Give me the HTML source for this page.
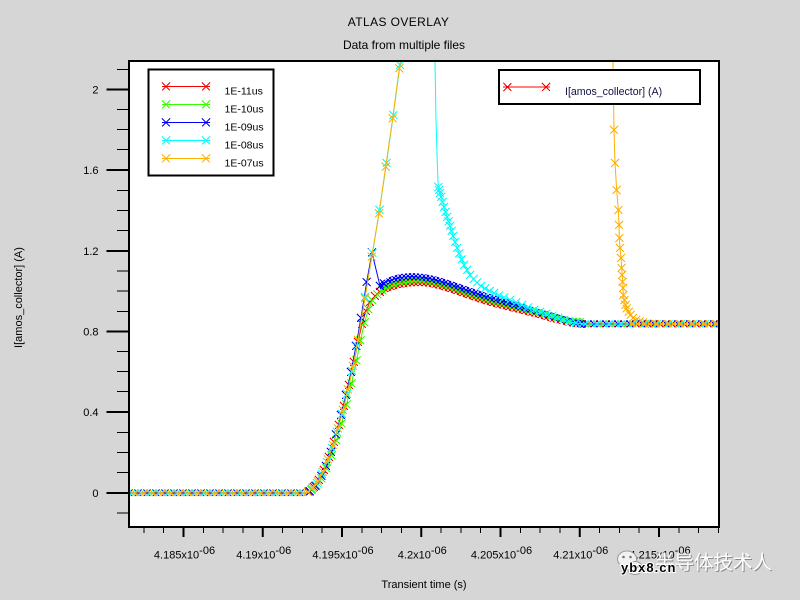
<!DOCTYPE html>
<html>
<head>
<meta charset="utf-8">
<style>
html,body{margin:0;padding:0;background:#d6d6d6;}
svg{display:block;}
</style>
</head>
<body>
<svg width="800" height="600" viewBox="0 0 800 600" xmlns="http://www.w3.org/2000/svg" font-family="'Liberation Sans', Arial, sans-serif">
<defs>
  <clipPath id="clip"><rect x="129" y="61" width="590" height="466"/></clipPath>
  <marker id="mR" markerUnits="userSpaceOnUse" markerWidth="10" markerHeight="10" refX="5" refY="5" overflow="visible"><path d="M1,1L9,9M1,9L9,1" stroke="#ff0000" fill="none" shape-rendering="crispEdges"/></marker>
  <marker id="mG" markerUnits="userSpaceOnUse" markerWidth="10" markerHeight="10" refX="5" refY="5" overflow="visible"><path d="M1,1L9,9M1,9L9,1" stroke="#33ff00" fill="none" shape-rendering="crispEdges"/></marker>
  <marker id="mB" markerUnits="userSpaceOnUse" markerWidth="10" markerHeight="10" refX="5" refY="5" overflow="visible"><path d="M1,1L9,9M1,9L9,1" stroke="#0000ff" fill="none" shape-rendering="crispEdges"/></marker>
  <marker id="mC" markerUnits="userSpaceOnUse" markerWidth="10" markerHeight="10" refX="5" refY="5" overflow="visible"><path d="M1,1L9,9M1,9L9,1" stroke="#00ffff" fill="none" shape-rendering="crispEdges"/></marker>
  <marker id="mO" markerUnits="userSpaceOnUse" markerWidth="10" markerHeight="10" refX="5" refY="5" overflow="visible"><path d="M1,1L9,9M1,9L9,1" stroke="#ffb000" fill="none" shape-rendering="crispEdges"/></marker>

  <pattern id="hR" patternUnits="userSpaceOnUse" width="4" height="4"><path d="M-1,-1L5,5M-1,5L5,-1" stroke="#ff0000" stroke-width="1" shape-rendering="crispEdges"/></pattern>
  <pattern id="hG" patternUnits="userSpaceOnUse" width="4" height="4"><path d="M-1,-1L5,5M-1,5L5,-1" stroke="#33ff00" stroke-width="1" shape-rendering="crispEdges"/></pattern>
  <pattern id="hB" patternUnits="userSpaceOnUse" width="4" height="4"><path d="M-1,-1L5,5M-1,5L5,-1" stroke="#0000ff" stroke-width="1" shape-rendering="crispEdges"/></pattern>

  <pattern id="pBase" patternUnits="userSpaceOnUse" x="0" y="489" width="9" height="8">
    <g fill="none" stroke-width="1" shape-rendering="crispEdges">
      <path stroke="#0000ff" d="M-0.5,0.5L6.5,7.5M-0.5,7.5L6.5,0.5M8.5,0.5L15.5,7.5M8.5,7.5L15.5,0.5"/>
      <path stroke="#00ffff" d="M2.5,0.5L9.5,7.5M2.5,7.5L9.5,0.5M-6.5,0.5L0.5,7.5M-6.5,7.5L0.5,0.5"/>
      <path stroke="#ffb000" d="M-3.5,0.5L3.5,7.5M-3.5,7.5L3.5,0.5M5.5,0.5L12.5,7.5M5.5,7.5L12.5,0.5M0,4L9,4"/>
    </g>
  </pattern>
  <pattern id="pFlatA" patternUnits="userSpaceOnUse" x="0" y="320" width="12" height="8">
    <g fill="none" stroke-width="1" shape-rendering="crispEdges">
      <path stroke="#ff0000" d="M-3.5,0.5L3.5,7.5M-3.5,7.5L3.5,0.5M8.5,0.5L15.5,7.5M8.5,7.5L15.5,0.5"/>
      <path stroke="#33ff00" d="M-0.5,0.5L6.5,7.5M-0.5,7.5L6.5,0.5"/>
      <path stroke="#0000ff" d="M2.5,0.5L9.5,7.5M2.5,7.5L9.5,0.5"/>
      <path stroke="#00ffff" d="M5.5,0.5L12.5,7.5M5.5,7.5L12.5,0.5M-6.5,0.5L0.5,7.5M-6.5,7.5L0.5,0.5M0,4L12,4"/>
    </g>
  </pattern>
  <pattern id="pFlatB" patternUnits="userSpaceOnUse" x="0" y="320" width="12" height="8">
    <g fill="none" stroke-width="1" shape-rendering="crispEdges">
      <path stroke="#ff0000" d="M-3.5,0.5L3.5,7.5M-3.5,7.5L3.5,0.5M8.5,0.5L15.5,7.5M8.5,7.5L15.5,0.5"/>
      <path stroke="#0000ff" d="M2.5,0.5L9.5,7.5M2.5,7.5L9.5,0.5"/>
      <path stroke="#00ffff" d="M5.5,0.5L12.5,7.5M5.5,7.5L12.5,0.5M-6.5,0.5L0.5,7.5M-6.5,7.5L0.5,0.5"/>
      <path stroke="#ffb000" d="M-2,0.5L5,7.5M-2,7.5L5,0.5M4,0.5L11,7.5M4,7.5L11,0.5M10,0.5L17,7.5M10,7.5L17,0.5M0,4L12,4"/>
    </g>
  </pattern>
</defs>

<!-- background -->
<rect x="0" y="0" width="800" height="600" fill="#d6d6d6"/>
<rect x="129" y="61" width="590" height="466" fill="#ffffff"/>

<!-- titles -->
<text x="398.5" y="26" text-anchor="middle" font-size="12" letter-spacing="0.4" fill="#000">ATLAS OVERLAY</text>
<text x="404" y="49" text-anchor="middle" font-size="12" fill="#000">Data from multiple files</text>

<!-- data -->
<g clip-path="url(#clip)" fill="none" stroke-width="1">
  <!-- RED -->
  <polygon fill="url(#hR)" stroke="none" points="380,288.5 390,284 400,281 410,279.5 420,279 430,280 440,282.5 450,285.5 460,289 470,292.5 480,296 490,299 500,301.5 510,304 520,306.5 530,309 540,311.5 550,314.5 560,317 570,319.5 584,320 584,328 570,326.5 560,324 550,321.5 540,318.5 530,316 520,313.5 510,311 500,308.5 490,306 480,303 470,299.5 460,296 450,292.5 440,289.5 430,287 420,286 410,286.5 400,288 390,291 380,295.5"/>
  <polyline stroke="#ff0000" points="128,493 305,493 309,491.5 314,487 319,480 324,470 329,457 334,442 339,425 344,406 349,385 354,362 358,342 362,324 366,311 370,302 375,296 380,292 390,287.5 400,284.5 410,283 420,282.5 430,283.5 440,286 450,289 460,292.5 470,296 480,299.5 490,302.5 500,305 510,307.5 520,310 530,312.5 540,315 550,318 560,320.5 570,323 580,324 719,324"/>
  <polyline stroke="none" marker-start="url(#mR)" marker-mid="url(#mR)" marker-end="url(#mR)" points="309,491.5 314,487 319,480 324,470 329,457 334,442 339,425 344,406 349,385 354,362 358,342 362,324 366,311 370,302 375,296 380,292"/>

  <!-- GREEN -->
  <polygon fill="url(#hG)" stroke="none" transform="translate(0,-2)" points="380,288.5 390,284 400,281 410,279.5 420,279 430,280 440,282.5 450,285.5 460,289 470,292.5 480,296 490,299 500,301.5 510,304 520,306.5 530,309 540,311.5 550,314.5 560,317 570,319.5 584,320 584,328 570,326.5 560,324 550,321.5 540,318.5 530,316 520,313.5 510,311 500,308.5 490,306 480,303 470,299.5 460,296 450,292.5 440,289.5 430,287 420,286 410,286.5 400,288 390,291 380,295.5"/>
  <polyline stroke="#33ff00" transform="translate(2.5,-1.5)" points="128,494.5 305,494.5 309,491.5 314,487 319,480 324,470 329,457 334,442 339,425 344,406 349,385 354,362 358,342 362,324 366,311 370,302 375,296 380,292 390,287.5 400,284.5 410,283 420,282.5 430,283.5 440,286 450,289 460,292.5 470,296 480,299.5 490,302.5 500,305 510,307.5 520,310 530,312.5 540,315 550,318 560,320.5 570,323 580,325.5 719,325.5"/>
  <polyline stroke="none" transform="translate(2.5,-1.5)" marker-start="url(#mG)" marker-mid="url(#mG)" marker-end="url(#mG)" points="309,491.5 314,487 319,480 324,470 329,457 334,442 339,425 344,406 349,385 354,362 358,342 362,324 366,311 370,302 375,296 380,292"/>

  <!-- BLUE -->
  <polygon fill="url(#hB)" stroke="none" points="380,282.5 388,277.5 396,275 404,273.5 412,273 420,273.5 430,275 440,277.5 450,280.5 460,284 470,287.5 480,291 490,294 500,297 510,300 520,303 530,306 540,309 550,312 560,315 570,318 578,320 586,320.5 586,328 578,327 570,325 560,322 550,319 540,316 530,313 520,310 510,307 500,304 490,301 480,298 470,294.5 460,291 450,287.5 440,284.5 430,282 420,280.5 412,280 404,280.5 396,282 388,284.5 380,289.5"/>
  <polyline stroke="#0000ff" points="128,493 305,493 310,491.5 315.5,486 321.5,476 326,466 331,452 336,434.5 341,415 346,395 351,372 356,346 361,318 366.7,282 372,252.5 380,286 388,281 396,278.5 404,277 412,276.5 420,277 430,278.5 440,281 450,284 460,287.5 470,291 480,294.5 490,297.5 500,300.5 510,303.5 520,306.5 530,309.5 540,312.5 550,315.5 560,318.5 570,321.5 578,323.5 586,324 719,324"/>
  <polyline stroke="none" marker-start="url(#mB)" marker-mid="url(#mB)" marker-end="url(#mB)" points="310,491.5 315.5,486 321.5,476 326,466 331,452 336,434.5 341,415 346,395 351,372 356,346 361,318 366.7,282 372,252.5 380,286 384,283.5"/>

  <!-- CYAN -->
  <polyline stroke="#00ffff" points="128,493 305,493 312,489 317,483 322,474 327,462 332,448 337,432 342,414 347,394 352,371 357,346 365,297 372.5,253 379.5,210 386.5,163 393.3,115 400,65 404,35 430,35 434.8,50 436,120 437.5,170 438.3,187 439,190 440,193 441,197 442.5,202 444,207 445.5,212 447,217 448.5,221.5 450,226 451.5,231 453,236 455,242 457,248 459,253.5 461.5,259.5 464,265 467,270 470,275 473.5,279 477,282.5 481,286 485,288.5 489.5,291 494,293 499,295.5 504,297.5 510,300 516,302.5 522,305 528,307.5 534,310 540,312 546,314 552,316 558,318 564,320 570,322 576,323 582,324 719,324"/>
  <polyline stroke="none" marker-start="url(#mC)" marker-mid="url(#mC)" marker-end="url(#mC)" points="312,489 317,483 322,474 327,462 332,448 337,432 342,414 347,394 352,371 357,346 365,297 372.5,253 379.5,210 386.5,163 393.3,115 400,65"/>
  <polyline stroke="none" marker-start="url(#mC)" marker-mid="url(#mC)" marker-end="url(#mC)" points="438.3,187 439,190 440,193 441,197 442.5,202 444,207 445.5,212 447,217 448.5,221.5 450,226 451.5,231 453,236 455,242 457,248 459,253.5 461.5,259.5 464,265 467,270 470,275 473.5,279 477,282.5 481,286 485,288.5 489.5,291 494,293 499,295.5 504,297.5 510,300 516,302.5 522,305 528,307.5 534,310 540,312 546,314 552,316 558,318 564,320 570,322 576,323 582,324"/>

  <!-- ORANGE -->
  <polyline stroke="#ffb000" points="128,493 305,493 308,492 313,488 318,481.5 323,472 328,459.5 333,445 338,428.5 343,410 348,389.5 353,366 358,340 365,298.3 371.7,256.7 379,213.3 385.7,166.7 392.7,118.3 399.3,68.3 404,35 600,35 612.8,50 614,130 615,163 616.7,190 618.3,210 619,225 619.3,238 620,248 621,258 621.7,268 622.2,275 622.7,282 623,288 623.3,295 624.3,300 625.5,305 626.7,308.5 628.5,312 630.5,315 633,318 636,320 639.5,321.5 643,322.5 647,323.3 652,323.8 658,324 719,324"/>
  <polyline stroke="none" marker-start="url(#mO)" marker-mid="url(#mO)" marker-end="url(#mO)" points="308,492 313,488 318,481.5 323,472 328,459.5 333,445 338,428.5 343,410 348,389.5 353,366 358,340 365,298.3 371.7,256.7 379,213.3 385.7,166.7 392.7,118.3 399.3,68.3"/>
  <polyline stroke="none" marker-start="url(#mO)" marker-mid="url(#mO)" marker-end="url(#mO)" points="614,130 615,163 616.7,190 618.3,210 619,225 619.3,238 620,248 621,258 621.7,268 622.2,275 622.7,282 623,288 623.3,295 624.3,300 625.5,305 626.7,308.5 628.5,312 630.5,315 633,318 636,320 639.5,321.5 643,322.5 647,323.3 652,323.8"/>

  <!-- dense bands -->
  <rect x="128" y="489" width="178" height="8" fill="url(#pBase)" stroke="none"/>
  <rect x="583" y="320" width="46" height="8" fill="url(#pFlatA)" stroke="none"/>
  <rect x="629" y="320" width="92" height="8" fill="url(#pFlatB)" stroke="none"/>
</g>

<!-- frame -->
<rect x="129" y="61" width="590" height="466" fill="none" stroke="#000" stroke-width="2"/>

<!-- y ticks -->
<path stroke="#000" stroke-width="2" fill="none" d="M106.5,493H128M106.5,412H128M106.5,331.5H128M106.5,251H128M106.5,170H128M106.5,89.5H128"/>
<path stroke="#000" stroke-width="1" fill="none" shape-rendering="crispEdges" d="M117,513H128M117,472.5H128M117,452.5H128M117,432.5H128M117,391.5H128M117,371.5H128M117,351.5H128M117,311.5H128M117,291H128M117,271H128M117,230.5H128M117,210.5H128M117,190.5H128M117,149.5H128M117,129.5H128M117,109.5H128M117,69.5H128"/>
<g font-size="11" fill="#000" text-anchor="end">
  <text x="98.5" y="93.3">2</text>
  <text x="98.5" y="173.8">1.6</text>
  <text x="98.5" y="254.8">1.2</text>
  <text x="98.5" y="335.3">0.8</text>
  <text x="98.5" y="415.8">0.4</text>
  <text x="98.5" y="496.8">0</text>
</g>

<!-- x ticks -->
<path stroke="#000" stroke-width="2" fill="none" d="M183.5,528V537M262.75,528V537M342,528V537M421.25,528V537M500.5,528V537M579.75,528V537M659,528V537"/>
<path stroke="#000" stroke-width="1" fill="none" shape-rendering="crispEdges" d="M143.9,528V533M163.7,528V533M203.3,528V533M223.1,528V533M242.9,528V533M282.6,528V533M302.4,528V533M322.2,528V533M361.8,528V533M381.6,528V533M401.4,528V533M441.1,528V533M460.9,528V533M480.7,528V533M520.3,528V533M540.1,528V533M559.9,528V533M599.6,528V533M619.4,528V533M639.2,528V533M678.8,528V533M698.6,528V533M718.4,528V533"/>
<g font-size="11" fill="#000" text-anchor="middle">
  <text x="184.5" y="558.5">4.185x10<tspan dy="-4.5">-06</tspan></text>
  <text x="263.75" y="558.5">4.19x10<tspan dy="-4.5">-06</tspan></text>
  <text x="343" y="558.5">4.195x10<tspan dy="-4.5">-06</tspan></text>
  <text x="422.25" y="558.5">4.2x10<tspan dy="-4.5">-06</tspan></text>
  <text x="501.5" y="558.5">4.205x10<tspan dy="-4.5">-06</tspan></text>
  <text x="580.75" y="558.5">4.21x10<tspan dy="-4.5">-06</tspan></text>
  <text x="660" y="558.5">4.215x10<tspan dy="-4.5">-06</tspan></text>
</g>

<!-- axis labels -->
<text x="424" y="588" text-anchor="middle" font-size="11" fill="#000">Transient time (s)</text>
<text transform="translate(22,297.5) rotate(-90)" text-anchor="middle" font-size="11" fill="#000">I[amos_collector] (A)</text>

<!-- legend 1 -->
<rect x="148.5" y="69.5" width="125" height="106" fill="#fff" stroke="#000" stroke-width="2"/>
<g fill="none" stroke-width="1">
  <path d="M162,86.5H210" stroke="#ff0000"/>
  <polyline points="166,86.5 206,86.5" stroke="none" marker-start="url(#mR)" marker-end="url(#mR)"/>
  <path d="M162,104.5H210" stroke="#33ff00"/>
  <polyline points="166,104.5 206,104.5" stroke="none" marker-start="url(#mG)" marker-end="url(#mG)"/>
  <path d="M162,122.5H210" stroke="#0000ff"/>
  <polyline points="166,122.5 206,122.5" stroke="none" marker-start="url(#mB)" marker-end="url(#mB)"/>
  <path d="M162,140.5H210" stroke="#00ffff"/>
  <polyline points="166,140.5 206,140.5" stroke="none" marker-start="url(#mC)" marker-end="url(#mC)"/>
  <path d="M162,158.5H210" stroke="#ffb000"/>
  <polyline points="166,158.5 206,158.5" stroke="none" marker-start="url(#mO)" marker-end="url(#mO)"/>
</g>
<g font-size="10.5" fill="#000">
  <text x="224.5" y="94.3">1E-11us</text>
  <text x="224.5" y="112.3">1E-10us</text>
  <text x="224.5" y="130.3">1E-09us</text>
  <text x="224.5" y="148.3">1E-08us</text>
  <text x="224.5" y="166.3">1E-07us</text>
</g>

<!-- legend 2 -->
<rect x="499" y="70" width="201" height="34" fill="#fff" stroke="#000" stroke-width="2"/>
<path d="M503,87H550" stroke="#ff0000" stroke-width="1" fill="none"/>
<polyline points="507.3,87 546,87" fill="none" stroke="none" marker-start="url(#mR)" marker-end="url(#mR)"/>
<text x="565" y="95" font-size="10.6" fill="#101040">I[amos_collector] (A)</text>

<!-- watermark -->
<ellipse cx="627" cy="559" rx="9.5" ry="8" fill="#f2f2f2" stroke="#9a9a9a" stroke-width="1"/>
<circle cx="623.5" cy="557" r="1.3" fill="#777"/>
<circle cx="630.5" cy="557" r="1.3" fill="#777"/>
<ellipse cx="635" cy="568" rx="7.5" ry="6.5" fill="#f2f2f2" stroke="#9a9a9a" stroke-width="1"/>
<circle cx="632.5" cy="567" r="1" fill="#777"/>
<circle cx="637.5" cy="567" r="1" fill="#777"/>
<text x="656" y="570" font-size="19.5" fill="#8a8a8a" font-family="'Liberation Sans','Noto Sans CJK SC',sans-serif">半导体技术人</text>
<text x="655" y="569" font-size="19.5" fill="#ffffff" font-family="'Liberation Sans','Noto Sans CJK SC',sans-serif">半导体技术人</text>
<text x="621" y="572" font-size="13" font-weight="bold" letter-spacing="1" fill="#000" stroke="#fff" stroke-width="2" paint-order="stroke">ybx8.cn</text>
</svg>
</body>
</html>
